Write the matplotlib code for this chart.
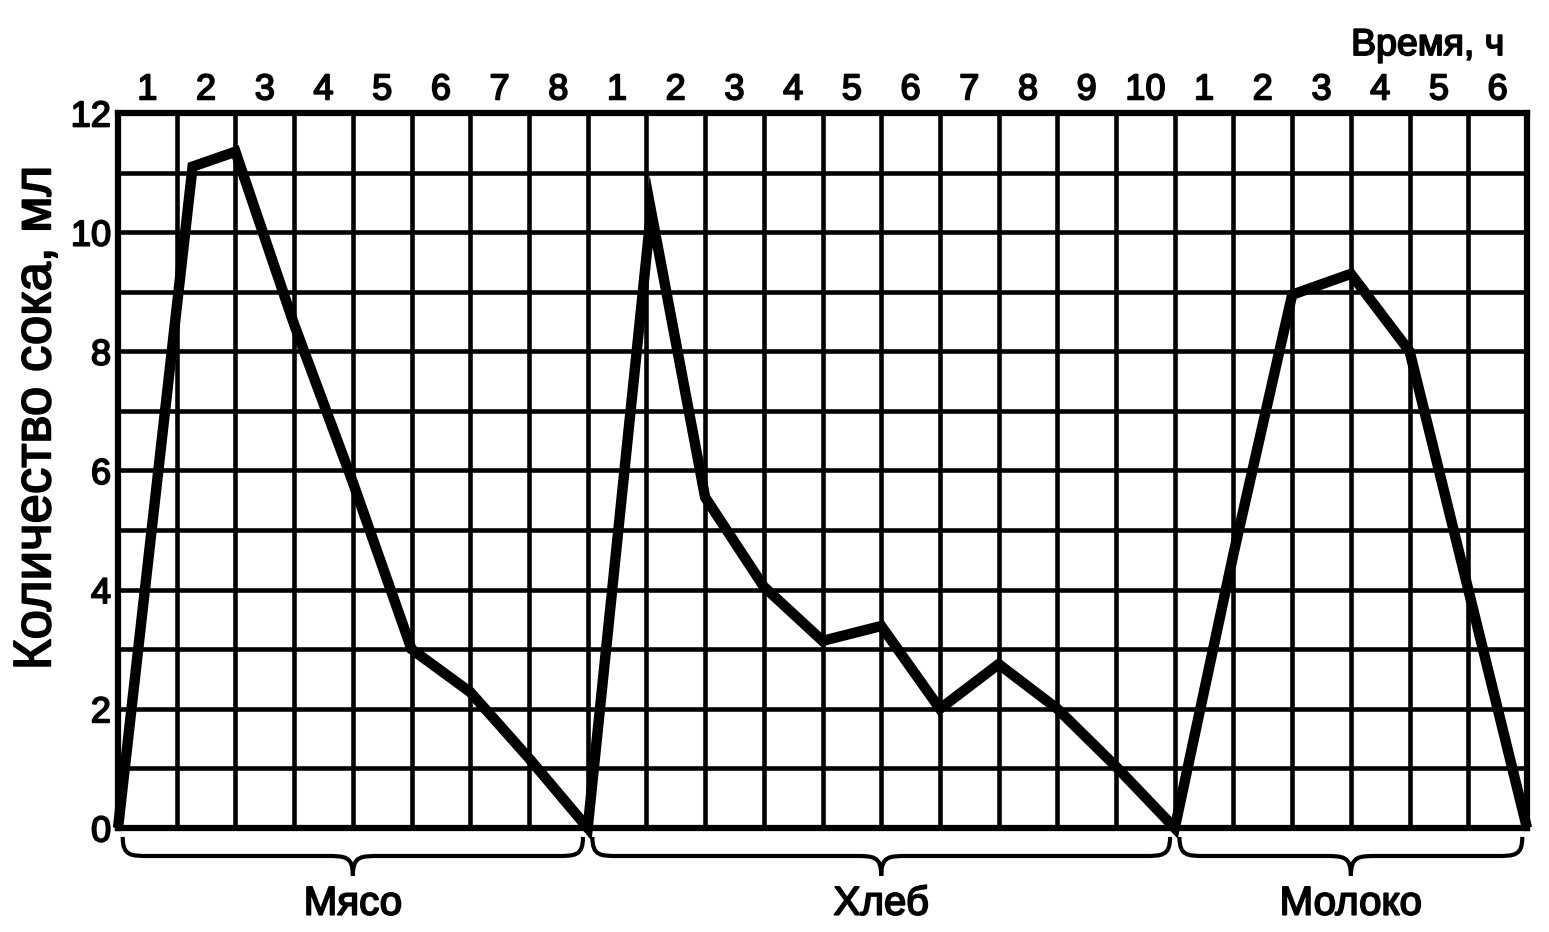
import numpy as np
import matplotlib.pyplot as plt
import matplotlib.patheffects as pe
from matplotlib.path import Path
from matplotlib.patches import PathPatch

plt.rcParams['font.family'] = ['Liberation Sans', 'DejaVu Sans']

# Secretion of gastric juice, ml, hour by hour after each food
meat_hours = [0, 1.27, 2, 3, 4, 5, 6, 7, 8]
meat_juice = [0, 11.1, 11.35, 8.45, 5.8, 3.0, 2.28, 1.17, 0]

bread_hours = [0, 1.08, 2, 3, 4, 5, 6, 7, 8, 9, 10]
bread_juice = [0, 10.35, 5.55, 4.05, 3.14, 3.39, 2.0, 2.75, 2.0, 1.03, 0]

milk_hours = [0, 1, 2, 3, 4, 5, 6]
milk_juice = [0, 4.6, 8.95, 9.3, 8.0, 4.0, 0]

foods = ['Мясо', 'Хлеб', 'Молоко']
durations = [8, 10, 6]

y_ticks = [0, 2, 4, 6, 8, 10, 12]

# one continuous x axis: food sections placed one after another
starts = np.cumsum([0] + durations[:-1])
x_all = np.concatenate([np.array(meat_hours) + starts[0],
                        np.array(bread_hours) + starts[1],
                        np.array(milk_hours) + starts[2]])
y_all = np.concatenate([meat_juice, bread_juice, milk_juice])
total = sum(durations)

bold = [pe.withStroke(linewidth=1.3, foreground='black')]

fig = plt.figure(figsize=(15.49, 9.32), dpi=100)
ax = fig.add_axes([0.0762, 0.1116, 0.9096, 0.7672])

ax.plot(x_all, y_all, color='black', lw=7.5, solid_joinstyle='miter',
        solid_capstyle='butt', clip_on=False, zorder=5)

ax.set_xlim(0, total)
ax.set_ylim(0, 12)

# grid at every hour / every ml
ax.set_xticks(np.arange(total + 1))
ax.set_xticklabels([])
ax.set_yticks(np.arange(13))
ax.set_yticklabels([str(v) if v in y_ticks else '' for v in range(13)])
ax.grid(True, which='major', color='black', lw=3.3)
ax.set_axisbelow(True)

# hour labels on top, centred in each column
centers = np.arange(total) + 0.5
hour_labels = [str(h) for d in durations for h in range(1, d + 1)]
ax.set_xticks(centers, minor=True)
ax.set_xticklabels(hour_labels, minor=True)
ax.tick_params(axis='x', which='both', bottom=False, labelbottom=False,
               top=False, labeltop=True, length=0, pad=4, labelsize=26)
ax.tick_params(axis='y', length=0, pad=5, labelsize=26)
for lab in ax.get_xticklabels(minor=True) + ax.get_yticklabels():
    lab.set_path_effects(bold)

for s in ax.spines.values():
    s.set_linewidth(4.5)

ax.text(0.984, 1.095, 'Время, ч', transform=ax.transAxes, ha='right',
        va='center', fontsize=27, path_effects=bold)
ax.text(-0.058, 0.573, 'Количество сока, мл', transform=ax.transAxes,
        rotation=90, ha='center', va='center', fontsize=38,
        path_effects=bold)


# curly braces under each food section
def brace(x0, x1, y0=-0.15, y1=-0.47, y2=-0.8, r=0.45):
    xm = (x0 + x1) / 2
    verts = [(x0, y0), (x0, y1), (x0 + r * 0.3, y1), (x0 + r, y1),
             (xm - r, y1),
             (xm - r * 0.3, y1), (xm, y1), (xm, y2),
             (xm, y1), (xm + r * 0.3, y1), (xm + r, y1),
             (x1 - r, y1),
             (x1 - r * 0.3, y1), (x1, y1), (x1, y0)]
    codes = [Path.MOVETO, Path.CURVE4, Path.CURVE4, Path.CURVE4,
             Path.LINETO,
             Path.CURVE4, Path.CURVE4, Path.CURVE4,
             Path.CURVE4, Path.CURVE4, Path.CURVE4,
             Path.LINETO,
             Path.CURVE4, Path.CURVE4, Path.CURVE4]
    ax.add_patch(PathPatch(Path(verts, codes), fill=False, color='black',
                           lw=3, clip_on=False))
    return xm


for name, st, d in zip(foods, starts, durations):
    xm = brace(st + 0.08, st + d - 0.08)
    ax.text(xm, -1.27, name, ha='center', va='center', fontsize=29,
            path_effects=bold)

plt.savefig('out.png', dpi=100)
